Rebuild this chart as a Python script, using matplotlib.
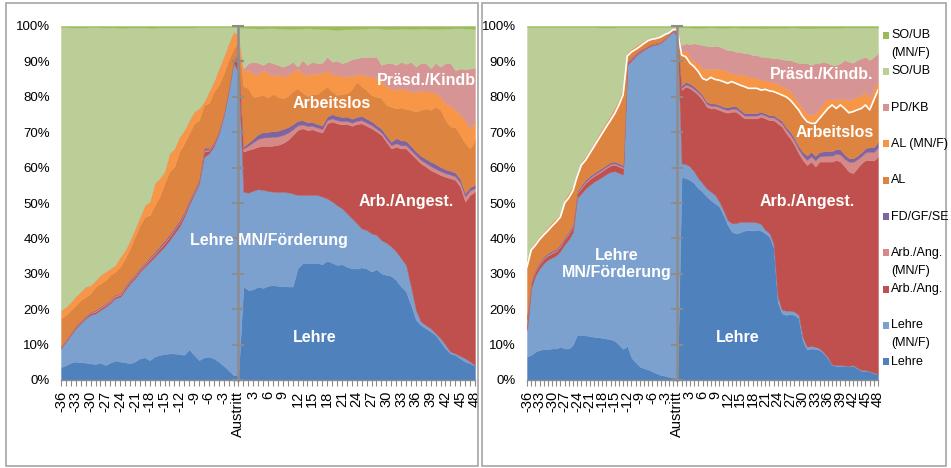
import numpy as np
import matplotlib
matplotlib.use("Agg")
import matplotlib.pyplot as plt
from matplotlib import font_manager
from matplotlib.patches import Rectangle

# ---------------- data (percent) ----------------
months = list(range(-36, 49))
tick_pos = list(range(-36, 49, 3))
tick_labels = ["Austritt" if m == 0 else str(m) for m in tick_pos]

series = ["Lehre", "Lehre (MN/F)", "Arb./Ang.", "Arb./Ang. (MN/F)", "FD/GF/SE",
          "AL", "AL (MN/F)", "PD/KB", "SO/UB", "SO/UB (MN/F)"]
colors = ["#4F81BD", "#7DA1CF", "#C0504D", "#D58A88", "#8064A2",
          "#DD8440", "#F79646", "#D69594", "#BCCE98", "#9BBB59"]

# ----- left panel: upper boundaries of stacked layers (cumulative %) -----
L_lehre_top = [3.6, 4.2, 4.9, 5.2, 5.0, 4.9, 4.7, 4.5, 4.9, 4.2, 4.9, 5.5, 5.2, 5.0, 4.7, 5.2, 6.1, 6.4,
               5.6, 6.6, 7.1, 7.3, 7.5, 7.5, 7.3, 7.1, 8.7, 7.1, 5.6, 6.4, 6.6, 6.1, 5.2, 4.0, 2.8, 1.4,
               1.5,
               26.4, 25.4, 25.6, 26.4, 26.0, 26.6, 26.8, 26.6, 26.5, 26.4, 26.4, 31.5, 33.0, 33.1, 33.0, 33.1,
               32.7, 33.7, 33.1, 32.5, 32.7, 32.0, 31.5, 31.5, 31.8, 31.5, 30.6, 31.3, 30.1, 29.7, 29.4, 28.2,
               26.4, 25.0, 21.2, 17.0, 15.5, 14.6, 13.7, 12.7, 10.8, 8.9, 7.5, 7.1, 6.1, 5.2, 4.7, 4.0]
L_lehre_mnf_top = [8.9, 10.8, 12.7, 14.6, 16.0, 17.4, 18.4, 18.8, 19.8, 20.7, 21.7, 23.1, 23.5, 25.4, 27.3,
                   28.7, 30.6, 32.0, 33.4, 34.8, 36.3, 37.7, 39.5, 41.4, 43.3, 46.1, 49.5, 52.5, 55.5, 63.0,
                   64.0, 66.0, 69.5, 74.5, 81.5, 89.5,
                   87.0,
                   53.2, 52.9, 53.5, 53.9, 53.7, 53.4, 53.2, 53.1, 53.2, 53.0, 52.7, 52.3, 52.3, 52.3, 52.3,
                   52.3, 51.8, 51.3, 50.4, 49.4, 48.5, 47.1, 45.7, 44.3, 42.8, 42.4, 41.4, 41.0, 39.5, 38.8,
                   37.7, 36.3, 34.4, 32.5, 26.4, 19.8, 16.5, 15.5, 14.6, 13.2, 11.8, 9.9, 8.0, 7.5, 6.8, 6.1,
                   5.2, 4.2]
L_arb_top = [9.2, 11.1, 13.0, 15.0, 16.4, 17.8, 18.9, 19.3, 20.3, 21.2, 22.2, 23.6, 24.0, 26.0, 27.9, 29.3,
             31.2, 32.6, 34.1, 35.5, 37.1, 38.6, 40.4, 42.4, 44.3, 46.9, 50.2, 53.1, 56.1, 64.5, 64.8, 66.6,
             70.0, 74.9, 81.8, 89.8,
             92.0,
             64.5, 65.0, 65.4, 65.9, 66.1, 66.1, 66.2, 66.4, 66.9, 67.8, 69.2, 70.6, 71.1, 70.6, 70.8, 70.3,
             69.9, 72.5, 73.0, 72.5, 72.2, 72.3, 71.8, 72.3, 72.5, 71.8, 71.1, 70.2, 69.2, 67.3, 65.4, 65.9,
             65.4, 65.4, 64.0, 62.6, 61.2, 60.3, 59.3, 58.6, 57.9, 57.4, 57.0, 56.5, 54.6, 50.4, 52.3, 53.2]
L_arb_mnf = [0.2, 0.2, 0.2, 0.2, 0.2, 0.2, 0.2, 0.3, 0.3, 0.3, 0.3, 0.3, 0.3, 0.3, 0.3, 0.3, 0.3, 0.3,
             0.3, 0.3, 0.3, 0.3, 0.3, 0.3, 0.3, 0.3, 0.3, 0.3, 0.3, 0.4, 0.3, 0.3, 0.2, 0.2, 0.2, 0.2,
             0.3,
             0.8, 1.2, 1.8, 2.2, 2.4, 2.5, 2.5, 2.4, 2.3, 2.0, 1.6, 1.3, 1.1, 1.1, 1.0, 1.0, 1.0, 0.9, 0.9,
             0.9, 0.9, 0.9, 0.9, 0.9, 0.9, 0.9, 0.9, 0.8, 0.8, 0.8, 0.9, 1.0, 0.9, 0.9, 0.9, 0.9, 1.0, 1.0,
             1.1, 1.1, 1.1, 1.0, 1.0, 1.0, 1.2, 1.5, 1.3, 1.0]
L_fd = [0.1, 0.1, 0.1, 0.2, 0.2, 0.2, 0.2, 0.2, 0.2, 0.2, 0.2, 0.2, 0.2, 0.3, 0.3, 0.3, 0.3, 0.3,
        0.4, 0.4, 0.5, 0.5, 0.5, 0.5, 0.5, 0.4, 0.4, 0.3, 0.3, 0.8, 0.4, 0.3, 0.2, 0.2, 0.2, 0.2,
        0.2,
        0.6, 0.8, 1.0, 1.3, 1.5, 1.5, 1.6, 1.6, 1.7, 1.6, 1.4, 1.3, 1.2, 1.1, 1.1, 1.0, 1.0, 1.0, 1.2,
        1.2, 1.2, 1.2, 1.1, 1.1, 1.2, 1.1, 1.1, 1.0, 1.0, 1.0, 1.0, 1.4, 1.4, 1.3, 1.2, 1.1, 1.1, 1.2,
        1.3, 1.3, 1.2, 1.1, 1.1, 1.1, 1.0, 0.9, 0.9, 0.9]
L_al_top = [17.4, 18.4, 19.8, 21.2, 22.6, 23.5, 24.5, 26.4, 27.3, 28.2, 29.7, 30.6, 32.0, 34.4, 37.2, 40.5,
            43.8, 46.1, 46.6, 49.4, 51.8, 55.6, 58.9, 60.3, 64.5, 66.9, 69.7, 72.5, 73.4, 77.7, 78.2, 81.5,
            83.3, 86.6, 90.4, 93.7,
            95.5,
            83.0, 82.4, 80.0, 80.2, 80.5, 79.8, 80.8, 80.0, 79.6, 80.2, 81.5, 82.4, 81.2, 80.2, 80.8, 80.8,
            81.9, 82.9, 81.5, 80.5, 80.8, 81.0, 82.1, 84.3, 82.9, 81.9, 80.5, 80.0, 79.6, 77.7, 77.2, 76.7,
            77.0, 76.5, 76.3, 75.8, 76.3, 76.7, 76.3, 77.2, 76.3, 73.4, 71.6, 71.4, 69.2, 66.9, 65.4, 67.8]
L_al_mnf_top = [19.6, 20.7, 22.1, 23.7, 25.0, 26.4, 26.8, 28.2, 29.7, 30.6, 31.5, 32.5, 34.8, 36.7, 39.5,
                42.8, 46.1, 49.4, 50.4, 55.6, 57.0, 58.9, 64.0, 65.4, 68.7, 70.6, 73.4, 75.8, 76.7, 78.6,
                81.5, 84.3, 88.0, 91.3, 95.1, 98.4,
                97.5,
                87.1, 87.6, 86.6, 86.3, 87.6, 86.6, 85.9, 86.4, 85.7, 86.2, 87.1, 87.8, 86.6, 86.2, 86.4,
                86.6, 86.6, 87.6, 86.2, 86.3, 85.7, 85.9, 85.7, 86.6, 86.2, 85.9, 85.7, 85.2, 84.7, 82.9,
                82.4, 81.9, 82.4, 81.9, 81.5, 81.2, 81.9, 81.5, 81.5, 81.0, 79.9, 78.2, 77.4, 76.3, 74.9,
                73.4, 71.1, 73.0]
# PD/KB only after exit (months 1..48), upper boundary
L_pdkb_top_after = [88.0, 89.5, 89.9, 89.6, 89.0, 89.9, 89.5, 89.0, 88.5, 89.0, 89.9, 88.5, 90.4, 89.0,
                    89.9, 89.5, 89.6, 91.3, 89.9, 90.2, 89.5, 89.9, 90.6, 90.9, 91.2, 91.2, 91.3, 91.3,
                    89.0, 89.5, 89.6, 89.0, 89.9, 89.3, 89.9, 88.5, 89.6, 89.5, 88.1, 89.6, 88.5, 89.5,
                    89.5, 87.5, 88.0, 87.8, 88.0, 88.2]
L_soub_mnf = [0.3, 0.3, 0.4, 0.4, 0.4, 0.4, 0.3, 0.3, 0.4, 0.4, 0.4, 0.4, 0.5, 0.5, 0.4, 0.4, 0.4, 0.4,
              0.5, 0.5, 0.4, 0.4, 0.4, 0.4, 0.4, 0.4, 0.4, 0.4, 0.3, 0.3, 0.3, 0.3, 0.3, 0.3, 0.3, 0.3,
              0.4,
              0.5, 0.6, 0.6, 0.7, 0.7, 0.6, 0.6, 0.7, 0.7, 0.8, 0.8, 0.7, 0.7, 0.6, 0.7, 0.8, 0.8, 0.9,
              1.0, 1.1, 1.0, 0.9, 0.9, 0.8, 0.7, 0.7, 0.6, 0.6, 0.7, 0.8, 0.9, 0.8, 0.7, 0.7, 0.8, 0.8,
              0.7, 0.7, 0.8, 0.8, 0.8, 0.7, 0.7, 0.6, 0.6, 0.7, 0.7, 0.8]

# ----- right panel -----
R_lehre_top = [6.6, 7.1, 8.0, 8.5, 8.7, 8.7, 8.9, 8.9, 9.4, 8.9, 8.9, 10.0, 12.8, 12.7, 12.6, 12.4, 12.2,
               12.1, 11.9, 11.7, 11.5, 11.0, 10.0, 8.8, 9.6, 6.3, 5.0, 3.8, 3.3, 3.0, 2.4, 1.9, 1.4, 1.2,
               0.9, 0.7,
               0.5,
               57.4, 57.0, 56.5, 55.6, 54.1, 53.2, 51.8, 50.8, 49.9, 49.0, 46.6, 43.8, 41.9, 41.4, 41.7,
               42.2, 42.4, 42.2, 42.4, 42.2, 41.4, 40.5, 37.5, 22.0, 18.8, 18.4, 18.6, 18.4, 17.4, 11.0,
               8.6, 8.9, 8.8, 8.5, 7.5, 6.1, 4.2, 4.0, 4.0, 4.0, 3.8, 4.0, 3.3, 2.6, 2.6, 2.4, 1.9, 1.6]
R_lehre_mnf_top = [14.0, 26.0, 29.5, 31.5, 33.0, 34.0, 34.6, 35.2, 36.5, 38.3, 39.8, 41.8, 51.5, 52.7,
                   54.1, 55.1, 56.0, 56.7, 57.4, 58.2, 58.8, 59.0, 58.5, 58.0, 89.0, 90.3, 91.5, 92.5,
                   93.3, 94.0, 94.5, 94.8, 95.2, 96.2, 97.3, 98.5,
                   97.0,
                   61.2, 61.0, 60.3, 58.9, 57.0, 55.6, 54.1, 53.2, 52.3, 50.4, 48.0, 45.2, 44.3, 44.3,
                   44.7, 44.7, 44.7, 44.7, 44.5, 44.1, 42.4, 41.5, 38.5, 23.5, 19.8, 19.6, 19.6, 19.3,
                   18.4, 12.0, 9.4, 9.6, 9.4, 8.9, 7.8, 6.4, 4.4, 4.2, 4.2, 4.1, 4.0, 4.2, 3.5, 2.8, 2.8,
                   2.5, 2.1, 1.7]
R_arb_top = [17.0, 27.5, 30.7, 32.7, 34.2, 35.2, 35.8, 36.4, 37.8, 39.7, 41.3, 43.3, 52.7, 54.2, 55.7,
             56.7, 57.6, 58.3, 59.1, 59.9, 60.6, 60.8, 60.3, 59.8, 89.6, 90.8, 91.9, 92.9, 93.6, 94.3,
             94.8, 95.1, 95.4, 96.4, 97.5, 98.7,
             98.0,
             81.9, 82.9, 82.4, 81.5, 80.5, 79.1, 77.2, 76.7, 76.7, 76.3, 75.8, 75.5, 75.8, 75.8, 74.9,
             73.9, 73.9, 73.9, 73.9, 74.4, 73.9, 73.4, 73.4, 72.5, 71.6, 69.7, 68.3, 66.4, 64.0, 62.1,
             60.7, 61.7, 60.3, 61.7, 61.7, 61.7, 61.7, 62.1, 61.7, 60.3, 58.9, 58.4, 59.8, 61.2, 62.1,
             62.1, 62.0, 63.1]
R_arb_mnf = [0.3, 0.3, 0.3, 0.3, 0.3, 0.3, 0.3, 0.3, 0.3, 0.3, 0.3, 0.3, 0.3, 0.4, 0.4, 0.4, 0.4, 0.4,
             0.4, 0.4, 0.4, 0.4, 0.4, 0.4, 0.2, 0.2, 0.2, 0.2, 0.1, 0.1, 0.1, 0.1, 0.1, 0.1, 0.1, 0.1,
             0.2,
             0.6, 0.6, 0.6, 0.7, 0.7, 0.8, 0.8, 0.8, 0.8, 0.8, 0.8, 0.8, 0.8, 0.8, 0.8, 0.8, 0.8, 0.8,
             0.8, 0.8, 0.8, 0.8, 0.8, 0.9, 0.9, 1.0, 1.0, 1.1, 1.2, 1.3, 1.5, 1.5, 1.8, 1.5, 1.6, 1.7,
             1.7, 1.8, 2.0, 2.2, 2.8, 3.2, 2.5, 2.0, 2.2, 2.4, 2.4, 2.6]
R_fd = [0.2, 0.3, 0.3, 0.4, 0.4, 0.4, 0.4, 0.4, 0.4, 0.4, 0.4, 0.4, 0.4, 0.5, 0.5, 0.5, 0.5, 0.5,
        0.5, 0.5, 0.5, 0.5, 0.5, 0.5, 0.2, 0.2, 0.2, 0.2, 0.1, 0.1, 0.1, 0.1, 0.1, 0.1, 0.1, 0.1,
        0.2,
        0.7, 0.7, 0.7, 0.7, 0.6, 0.6, 0.6, 0.6, 0.6, 0.6, 0.6, 0.7, 0.7, 0.7, 0.7, 0.7, 0.7, 0.7,
        0.7, 0.6, 0.6, 0.6, 0.6, 0.6, 0.7, 0.7, 0.8, 0.8, 0.9, 1.0, 1.2, 1.3, 1.2, 1.2, 1.3, 1.3,
        1.3, 1.3, 1.4, 1.2, 1.0, 1.0, 1.0, 1.1, 1.2, 1.3, 1.4, 1.5]
R_al_top = [32.0, 36.7, 38.1, 39.7, 41.0, 42.2, 43.5, 44.7, 46.1, 50.0, 51.5, 53.5, 57.5, 60.7, 62.1,
            64.0, 65.9, 67.8, 69.7, 71.6, 73.4, 75.3, 77.7, 80.6, 91.5, 92.7, 93.4, 94.2, 95.1, 95.9,
            96.3, 96.5, 96.9, 97.6, 98.1, 99.0,
            99.0,
            91.8, 91.3, 89.5, 88.5, 87.1, 85.2, 84.7, 85.5, 84.9, 84.7, 84.3, 83.8, 84.3, 83.8, 83.3,
            82.9, 82.4, 82.4, 82.4, 81.9, 82.1, 81.7, 81.5, 81.0, 80.5, 80.0, 79.1, 77.7, 76.3, 74.4,
            73.0, 72.5, 72.5, 73.9, 75.3, 76.7, 77.7, 76.7, 77.7, 76.7, 75.5, 75.8, 76.3, 76.7, 77.7,
            76.3, 79.1, 81.9]
R_al_mnf_top = [33.9, 37.7, 39.1, 40.7, 41.9, 43.3, 44.7, 45.7, 47.1, 51.2, 53.0, 55.0, 59.0, 61.7,
                63.3, 65.2, 67.0, 69.2, 71.1, 73.0, 74.9, 77.0, 79.3, 82.9, 92.6, 93.6, 94.4, 95.1,
                95.9, 96.5, 96.9, 97.0, 97.4, 98.0, 98.6, 99.3,
                99.3,
                92.7, 93.2, 91.3, 89.9, 89.5, 88.0, 87.8, 88.0, 87.8, 88.0, 87.6, 87.1, 86.6, 86.2,
                86.4, 86.2, 85.7, 85.7, 85.2, 84.9, 84.7, 84.3, 84.0, 83.8, 82.9, 82.4, 81.5, 80.0,
                78.2, 76.7, 75.3, 74.9, 75.3, 76.7, 78.6, 79.5, 79.1, 79.5, 79.1, 79.5, 79.1, 79.5,
                80.0, 80.5, 81.5, 79.5, 82.4, 84.3]
R_pdkb_top_after = [94.6, 95.1, 94.9, 95.1, 94.9, 94.6, 94.4, 94.2, 94.4, 94.2, 93.7, 93.2, 93.2, 92.7,
                    92.7, 92.3, 92.3, 91.8, 91.8, 91.3, 91.3, 91.1, 90.9, 90.9, 90.6, 90.4, 90.4, 89.9,
                    89.6, 89.5, 89.5, 89.0, 89.5, 89.6, 89.9, 89.5, 89.0, 89.0, 89.5, 90.4, 89.9, 89.6,
                    90.4, 90.9, 91.3, 90.4, 91.3, 92.3]
R_soub_mnf = [0.3, 0.3, 0.3, 0.3, 0.3, 0.3, 0.3, 0.3, 0.3, 0.3, 0.3, 0.3, 0.3, 0.3, 0.3, 0.3, 0.3, 0.4,
              0.4, 0.4, 0.4, 0.4, 0.3, 0.3, 0.3, 0.3, 0.3, 0.3, 0.3, 0.3, 0.3, 0.3, 0.3, 0.3, 0.3, 0.3,
              0.3,
              0.4, 0.4, 0.4, 0.5, 0.5, 0.5, 0.4, 0.4, 0.4, 0.5, 0.5, 0.5, 0.4, 0.4, 0.5, 0.5, 0.5, 0.5,
              0.5, 0.6, 0.6, 0.5, 0.5, 0.5, 0.5, 0.5, 0.4, 0.4, 0.5, 0.6, 0.6, 0.6, 0.6, 0.5, 0.5, 0.5,
              0.5, 0.5, 0.5, 0.4, 0.4, 0.4, 0.4, 0.4, 0.4, 0.4, 0.4, 0.4]


def layer_shares(lehre_top, lmnf_top, arb_top, arb_mnf, fd, al_top, almnf_top, pdkb_after, soub_mnf):
    lehre_top = np.array(lehre_top); lmnf_top = np.array(lmnf_top); arb_top = np.array(arb_top)
    arb_mnf = np.array(arb_mnf); fd = np.array(fd); al_top = np.array(al_top)
    almnf_top = np.array(almnf_top); soub_mnf = np.array(soub_mnf)
    n_before = len(months) - len(pdkb_after)
    pd_top = np.concatenate([almnf_top[:n_before], np.array(pdkb_after)])
    fd_top = arb_top + arb_mnf + fd
    vals = [lehre_top,
            lmnf_top - lehre_top,
            arb_top - lmnf_top,
            arb_mnf,
            fd,
            al_top - fd_top,
            almnf_top - al_top,
            pd_top - almnf_top,
            100.0 - soub_mnf - pd_top,
            soub_mnf]
    vals = np.clip(np.vstack(vals), 0, None)
    bounds = np.cumsum(vals, axis=0)
    return vals, bounds


left_vals, left_bounds = layer_shares(L_lehre_top, L_lehre_mnf_top, L_arb_top, L_arb_mnf, L_fd,
                                      L_al_top, L_al_mnf_top, L_pdkb_top_after, L_soub_mnf)
right_vals, right_bounds = layer_shares(R_lehre_top, R_lehre_mnf_top, R_arb_top, R_arb_mnf, R_fd,
                                        R_al_top, R_al_mnf_top, R_pdkb_top_after, R_soub_mnf)

# ---------------- fonts ----------------
available = {f.name for f in font_manager.fontManager.ttflist}
HAS_NARROW = "Liberation Sans Narrow" in available
NARROW = "Liberation Sans Narrow" if HAS_NARROW else "Liberation Sans"
SMALL = 10.5 if HAS_NARROW else 9.0
plt.rcParams["font.family"] = ["Liberation Sans", "DejaVu Sans"]

W, H = 951, 468
fig = plt.figure(figsize=(W / 100, H / 100), dpi=100)
fig.patch.set_facecolor("white")

GRAY = "#8C8C8C"


def px_box(x0, y0, x1, y1):
    return [x0 / W, 1 - y1 / H, (x1 - x0) / W, (y1 - y0) / H]


def draw_panel(ax, vals, bounds, white_al_line):
    x = np.array(months)
    ax.stackplot(x, vals, colors=colors, linewidth=0.3, zorder=1)
    for poly, c in zip(ax.collections, colors):
        poly.set_edgecolor(c)
    if white_al_line:
        ax.plot(x, bounds[5], color="white", lw=1.2, zorder=2)
    ax.set_xlim(-36, 48)
    ax.set_ylim(0, 100)
    ax.set_facecolor("white")
    for s in ["top", "left"]:
        ax.spines[s].set_visible(False)
    ax.spines["bottom"].set_color(GRAY)
    ax.spines["bottom"].set_linewidth(1.0)
    ax.spines["bottom"].set_zorder(3)
    # vertical value axis crossing at "Austritt"
    ax.spines["right"].set_position(("data", 0))
    ax.spines["right"].set_color(GRAY)
    ax.spines["right"].set_linewidth(1.8)
    ax.spines["right"].set_zorder(3)
    ax.set_yticks(range(0, 101, 10))
    ax.set_yticklabels([f"{v}%" for v in range(0, 101, 10)], fontfamily=NARROW, fontsize=SMALL + 0.5)
    ax.tick_params(axis="y", which="major", left=False, right=True, labelleft=True,
                   labelright=False, direction="inout", length=8, width=1.5, color=GRAY, pad=4)
    ax.set_xticks(tick_pos)
    ax.set_xticklabels(tick_labels, rotation=90, fontsize=10.5)
    ax.set_xticks(months, minor=True)
    ax.tick_params(axis="x", which="both", direction="out", length=4, width=0.8, color=GRAY, pad=4)


axL = fig.add_axes(px_box(61, 26, 475, 380))
axR = fig.add_axes(px_box(527, 26, 878, 380))
draw_panel(axL, left_vals, left_bounds, False)
draw_panel(axR, right_vals, right_bounds, True)

lab = dict(color="white", fontweight="bold", fontsize=11.5, ha="center", va="center", zorder=5)
axL.text(38.6, 84.5, "Präsd./Kindb.", clip_on=True, **lab)
axL.text(19.0, 78.0, "Arbeitslos", **lab)
axL.text(34.0, 50.3, "Arb./Angest.", **lab)
axL.text(6.2, 39.5, "Lehre MN/Förderung", **lab)
axL.text(15.5, 11.9, "Lehre", **lab)

axR.text(34.6, 86.4, "Präsd./Kindb.", **lab)
axR.text(37.7, 70.0, "Arbeitslos", **lab)
axR.text(31.0, 50.3, "Arb./Angest.", **lab)
axR.text(-14.5, 32.7, "Lehre\nMN/Förderung", linespacing=1.15, **lab)
axR.text(14.5, 11.9, "Lehre", **lab)

# frames around the two charts
for (x0, y0, x1, y1) in [(6, 3, 478, 466), (482, 3, 946, 466)]:
    fig.patches.append(Rectangle((x0 / W, 1 - y1 / H), (x1 - x0) / W, (y1 - y0) / H,
                                 transform=fig.transFigure, fill=False, edgecolor="#A6A6A6",
                                 linewidth=1.2, zorder=0))

# legend (top to bottom in reverse stacking order)
display = {"SO/UB (MN/F)": "SO/UB\n(MN/F)", "Arb./Ang. (MN/F)": "Arb./Ang.\n(MN/F)",
           "Lehre (MN/F)": "Lehre\n(MN/F)"}
y0, step = 35.0, 36.3
for i, (name, col) in enumerate(zip(series[::-1], colors[::-1])):
    yy = y0 + i * step
    fig.patches.append(Rectangle((883 / W, 1 - (yy + 3.5) / H), 6 / W, 7 / H,
                                 transform=fig.transFigure, facecolor=col, edgecolor="none"))
    for j, line in enumerate(display.get(name, name).split("\n")):
        fig.text(891 / W, 1 - (yy + j * 18) / H, line, ha="left", va="center",
                 fontfamily=NARROW, fontsize=SMALL, color="black")

fig.savefig("out.png", dpi=100, facecolor="white")
